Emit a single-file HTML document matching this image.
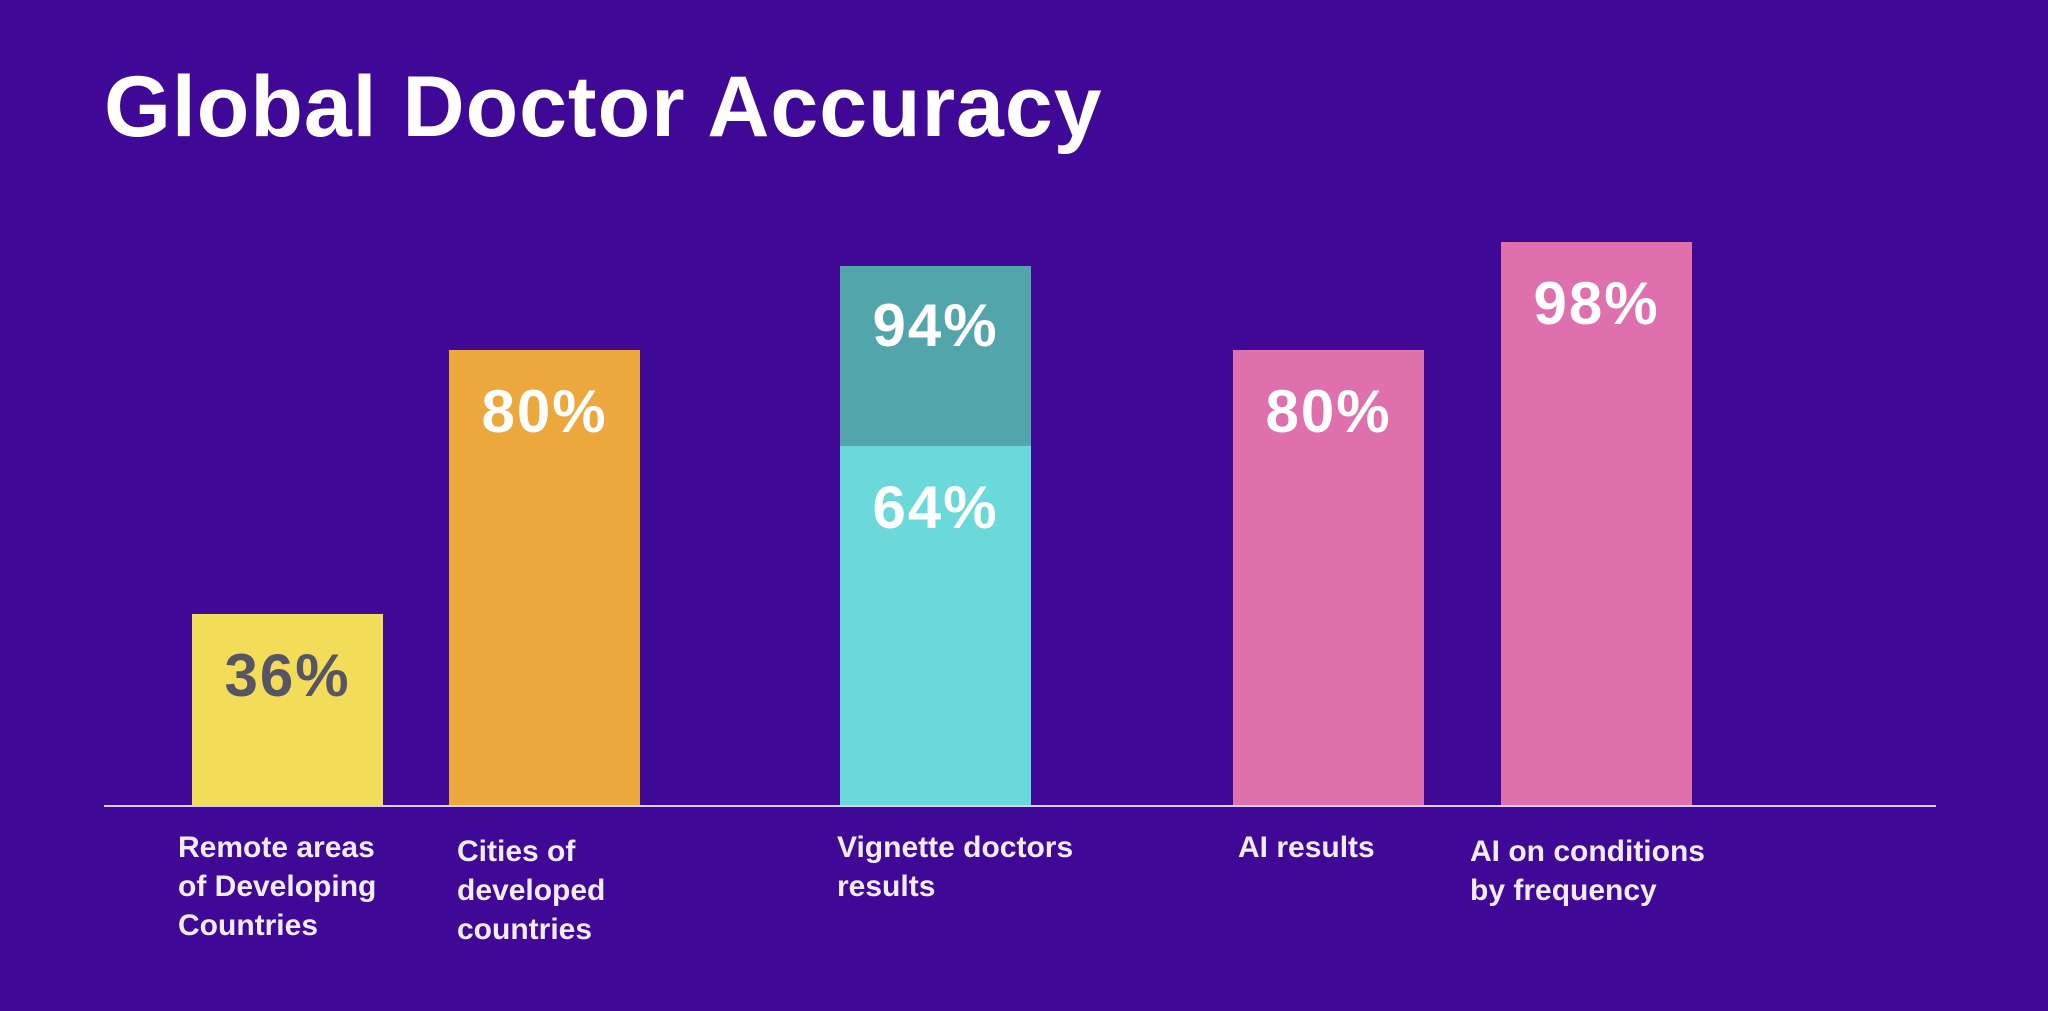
<!DOCTYPE html>
<html><head><meta charset="utf-8"><style>
html,body{margin:0;padding:0;background:#3f0896;}
body{width:2048px;height:1006px;overflow:hidden;font-family:"Liberation Sans",sans-serif;}
</style></head><body>
<svg id="chart" width="2048" height="1006" xmlns="http://www.w3.org/2000/svg">
<rect width="2048" height="1006" fill="#3f0896"/>
<text x="104" y="136" fill="#ffffff" font-size="86" font-weight="bold" letter-spacing="1" font-family="Liberation Sans, sans-serif">Global Doctor Accuracy</text>
<g id="bars"></g>
<line x1="104" y1="806" x2="1936" y2="806" stroke="#d9cdf0" stroke-width="2"/>
<g id="labels"></g>
</svg>
<script>
const categories = [["Remote areas","of Developing","Countries"],["Cities of","developed","countries"],["Vignette doctors","results"],["AI results"],["AI on conditions","by frequency"]];
const baseValues = [36, 80, 64, 80, 98];
const topValues = [null, null, 94, null, null];
const valueLabels = ["36%","80%","64%","80%","98%"];
const topLabels = [null,null,"94%",null,null];

const baseY = 806, scale = 6.0, minV = 4;
function yOf(v){ return baseY - (v - minV) * scale; }
const barX = [192, 449, 840, 1233, 1501];
const barW = 191;
const baseColors = ["#f3dc58","#eca83d","#6bd9d9","#e070ad","#e070ad"];
const labelColors = ["#575466","#ffffff","#ffffff","#ffffff","#ffffff"];
const NS = "http://www.w3.org/2000/svg";
const gb = document.getElementById('bars'), gl = document.getElementById('labels');
function mk(tag, attrs, parent){ const e=document.createElementNS(NS,tag); for(const k in attrs) e.setAttribute(k,attrs[k]); parent.appendChild(e); return e; }
baseValues.forEach((v,i)=>{
  if(topValues[i]!==null){
    const tt=yOf(topValues[i]);
    const r2=mk('rect',{x:barX[i],y:tt,width:barW,height:baseY-tt,fill:"#52a6ab"},gb);
    
    
    const t2=mk('text',{x:barX[i]+barW/2,y:tt+80,fill:"#ffffff","font-size":60,"font-weight":"bold","text-anchor":"middle","letter-spacing":2},gb);
    t2.textContent=topLabels[i];
    
    
  }
  const t=yOf(v);
  const r=mk('rect',{x:barX[i],y:t,width:barW,height:baseY-t,fill:baseColors[i]},gb);
  
  
  const tx=mk('text',{x:barX[i]+barW/2,y:t+82,fill:labelColors[i],"font-size":60,"font-weight":"bold","text-anchor":"middle","letter-spacing":2},gb);
  tx.textContent=valueLabels[i];
  
  
});
const catX = [178, 457, 837, 1238, 1470];
const catY = [857, 861, 857, 857, 861];
categories.forEach((lines,i)=>{
  const t=mk('text',{x:catX[i],y:catY[i],fill:"#f2ecfa","font-size":30,"font-weight":"bold"},gl);
  
  
  lines.forEach((ln,j)=>{ const s=mk('tspan',{x:catX[i],dy:j?39:0},t); s.textContent=ln; });
});
</script>
</body></html>
